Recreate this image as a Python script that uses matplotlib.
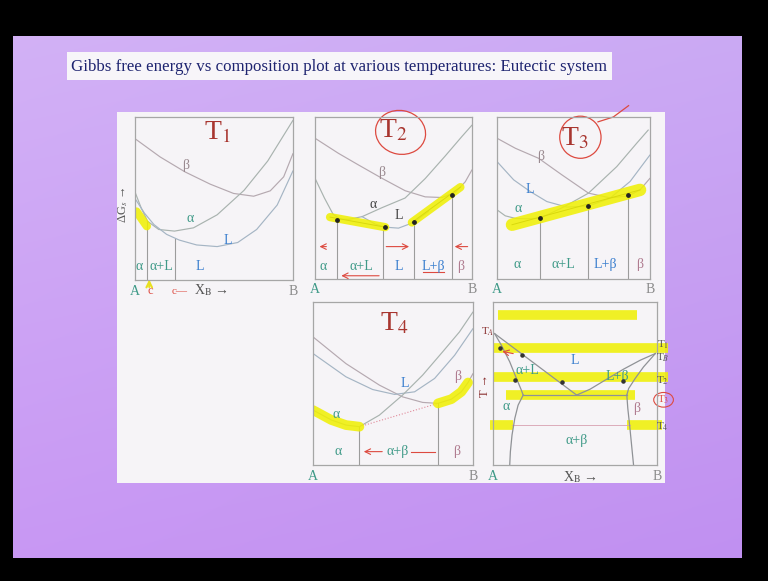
import matplotlib.pyplot as plt
import matplotlib.patches as mpatches
import numpy as np

plt.rcParams['font.family'] = ['Liberation Serif', 'DejaVu Serif']
plt.rcParams['mathtext.fontset'] = 'stix'

W, H = 768, 581

TITLE = 'Gibbs free energy vs composition plot at various temperatures: Eutectic system'

# ---- T1 : free energy curves (x = X_B, y = G, both 0..1 in the box) ----
t1_x_beta = [0, .159, .317, .476, .624, .751, .856, .941, 1.0]
t1_g_beta = [.867, .755, .663, .588, .531, .514, .547, .633, .776]
t1_x_alpha = [0, .04, .08, .15, .25, .37, .52, .69, .84, 1.0]
t1_g_alpha = [.54, .44, .36, .31, .30, .32, .40, .55, .73, .98]
t1_x_liq = [0, .06, .12, .20, .28, .39, .52, .65, .77, .90, 1.0]
t1_g_liq = [.50, .41, .34, .28, .245, .215, .205, .23, .31, .46, .67]
t1_bound_x = [.078, .254]
t1_bound_g = [.36, .25]
t1_hi_x = [.01, .075]
t1_hi_g = [.42, .33]
t1_regions = ['α', 'α+L', 'L']
t1_region_x = [.027, .169, .412]

# ---- T2 ----
t2_x_beta = [0, .149, .277, .426, .574, .702, .809, .894, .957, 1.0]
t2_g_beta = [.869, .776, .704, .622, .545, .507, .503, .535, .60, .674]
t2_x_alpha = [0, .06, .115, .16, .213, .30, .426, .574, .702, .830, .936, 1.0]
t2_g_alpha = [.622, .50, .40, .37, .368, .385, .44, .50, .62, .76, .88, .95]
t2_x_liq = [.298, .383, .447, .532, .628, .723]
t2_g_liq = [.386, .339, .320, .314, .349, .417]
t2_tan_x = [[.096, .447], [.617, .926]]
t2_tan_g = [[.382, .320], [.349, .567]]
t2_bound_x = [.138, .436, .628, .872]
t2_bound_g = [.366, .320, .349, .530]
t2_dot_x = [.138, .447, .628, .872]
t2_dot_g = [.366, .320, .349, .520]
t2_regions = ['α', 'α+L', 'L', 'L+β', 'β']
t2_region_x = [.053, .298, .532, .755, .926]

# ---- T3 ----
t3_x_beta = [0, .120, .272, .424, .598, .739, .859, .935, 1.0]
t3_g_beta = [.869, .807, .745, .643, .530, .501, .513, .550, .622]
t3_x_alpha = [0, .054, .120, .196, .283, .435, .598, .783, .913, .989]
t3_g_alpha = [.427, .390, .374, .372, .376, .444, .530, .694, .838, .920]
t3_x_liq = [0, .109, .217, .326, .457, .598, .739, .870, 1.0]
t3_g_liq = [.725, .612, .540, .478, .444, .450, .499, .602, .766]
t3_tan_x = [.098, .935]
t3_tan_g = [.335, .550]
t3_bound_x = [.283, .598, .859]
t3_bound_g = [.376, .452, .520]
t3_regions = ['α', 'α+L', 'L+β', 'β']
t3_region_x = [.13, .435, .707, .935]

# ---- T4 ----
t4_x_beta = [0, .206, .415, .560, .685, .781, .865, .927, .969, 1.0]
t4_g_beta = [.786, .622, .490, .418, .384, .378, .404, .449, .506, .561]
t4_x_liq = [0, .206, .373, .510, .635, .760, .885, 1.0]
t4_g_liq = [.684, .541, .463, .433, .449, .531, .673, .837]
t4_x_alpha = [0, .115, .206, .290, .415, .560, .685, .810, .915, 1.0]
t4_g_alpha = [.337, .276, .245, .235, .306, .429, .551, .694, .816, .939]
t4_tan_x = [.290, .781]
t4_tan_g = [.235, .378]
t4_bound_x = [.290, .781]
t4_bound_g = [.235, .378]
t4_regions = ['α', 'α+β', 'β']
t4_region_x = [.156, .531, .896]

# ---- phase diagram ----
pd_liq_left_x = [.010, .510]
pd_liq_left_t = [.806, .429]
pd_liq_right_x = [.990, .898, .796, .694, .592, .510]
pd_liq_right_t = [.684, .643, .588, .527, .465, .429]
pd_sol_left_x = [.010, .051, .102, .143, .173, .184]
pd_sol_left_t = [.806, .735, .633, .531, .459, .429]
pd_sol_right_x = [.990, .918, .867, .827, .816]
pd_sol_right_t = [.684, .602, .531, .469, .429]
pd_eut_x = [.184, .816]
pd_eut_t = [.429, .429]
pd_solv_left_x = [.184, .153, .133, .116, .106, .102]
pd_solv_left_t = [.429, .367, .286, .184, .082, 0]
pd_solv_right_x = [.816, .822, .833, .843, .851, .857]
pd_solv_right_t = [.429, .347, .245, .143, .061, 0]
pd_dot_x = [.045, .174, .133, .419, .794]
pd_dot_t = [.715, .674, .520, .510, .514]
pd_band_t = [.918, .720, .537, .429, .245, .245]
pd_band_x0 = [.031, 0, 0, .082, -.02, .818]
pd_band_x1 = [.878, 1.07, 1.07, .867, .12, 1.03]
pd_temp_labels = [r'T$_1$', r'T$_B$', r'T$_2$', r'T$_3$', r'T$_4$']
pd_temp_t = [.735, .655, .514, .400, .233]

C_ALPHA = '#3f9a88'
C_LIQ = '#3b7fcf'
C_BETA = '#b07c90'
C_TITLE = '#a8352f'
C_PEN = '#dd4a40'
C_YEL = '#f0f000'

fig = plt.figure(figsize=(W / 100, H / 100), dpi=100)
fig.patch.set_facecolor('black')

# slide background
bg = fig.add_axes([0, 0, 1, 1])
v = np.linspace(0, 1, 200)[:, None]
h = np.linspace(0, 1, 300)[None, :]
top = np.array([0.81, 0.68, 0.96])
bot = np.array([0.77, 0.58, 0.95])
img = top + (bot - top) * v[..., None] + 0.03 * (0.5 - h[..., None]) * np.array([1, 1, 0.3])
bg.imshow(np.clip(img, 0, 1), extent=(13, 742, 558, 36), aspect='auto', interpolation='bilinear')
bg.add_patch(mpatches.Rectangle((117, 112), 548, 371, fc='#f6f4f7', ec='none'))
bg.add_patch(mpatches.Rectangle((67, 52), 545, 28, fc='#f7f5f9', ec='none'))
bg.text(71, 67, TITLE, fontsize=12.2, color='#1e2470', va='center', ha='left')
bg.set_xlim(0, W)
bg.set_ylim(H, 0)
bg.axis('off')


def panel(l, t, r, b):
    ax = fig.add_axes([l / W, 1 - b / H, (r - l) / W, (b - t) / H])
    ax.set_xlim(0, 1)
    ax.set_ylim(0, 1)
    ax.set_xticks([])
    ax.set_yticks([])
    ax.set_facecolor('none')
    for s in ax.spines.values():
        s.set_color('#a6a6a6')
        s.set_linewidth(0.9)
    return ax


def curves(ax, xs, gs, cols):
    for x, g, c in zip(xs, gs, cols):
        ax.plot(x, g, color=c, lw=0.85, solid_capstyle='round')


def bounds(ax, xs, gs):
    for x, g in zip(xs, gs):
        ax.plot([x, x], [0, g], color='#9c9c9c', lw=0.8)


def regions(ax, names, xs, y):
    for n, x in zip(names, xs):
        if n.startswith('α'):
            c = C_ALPHA
        elif n.startswith('L'):
            c = C_LIQ
        else:
            c = C_BETA
        ax.text(x, y, n, color=c, fontsize=10, ha='center', va='center')


def ends(ax, y=-0.07):
    ax.text(0, y, 'A', color=C_ALPHA, fontsize=10, ha='center', va='center', clip_on=False)
    ax.text(1.0, y, 'B', color='#8a8a8a', fontsize=10, ha='center', va='center', clip_on=False)


cg_a, cg_b, cg_l = '#a9b3af', '#b5a9b0', '#a5b5c4'

# T1
ax1 = panel(135, 117, 293, 280)
curves(ax1, [t1_x_beta, t1_x_alpha, t1_x_liq], [t1_g_beta, t1_g_alpha, t1_g_liq], [cg_b, cg_a, cg_l])
bounds(ax1, t1_bound_x, t1_bound_g)
ax1.plot(t1_hi_x, t1_hi_g, color=C_YEL, lw=6, alpha=0.85, solid_capstyle='round')
regions(ax1, t1_regions, t1_region_x, .082)
ax1.text(.52, .905, r'T$_1$', color=C_TITLE, fontsize=20, ha='center', va='center')
ax1.text(.32, .70, 'β', color='#9a8a90', fontsize=10, ha='center', va='center')
ax1.text(.35, .38, 'α', color=C_ALPHA, fontsize=10, ha='center', va='center')
ax1.text(.59, .245, 'L', color=C_LIQ, fontsize=10, ha='center', va='center')
ax1.text(-.076, .46, r'ΔG$_s$ →', rotation=90, fontsize=9, color='#555555', ha='center', va='center', clip_on=False)
ends(ax1, -.073)
ax1.text(.48, -.065, r'X$_\mathrm{B}$ →', fontsize=10, color='#555555', ha='center', va='center')
ax1.text(.095, -.07, 'c', fontsize=9, color=C_PEN, ha='center', va='center')
ax1.text(.28, -.07, 'c—', fontsize=8, color=C_PEN, ha='center', va='center')
ax1.annotate('', xy=(.09, .02), xytext=(.09, -.06), arrowprops=dict(arrowstyle='->', color='#e8e020', lw=1.5))

# T2
ax2 = panel(315, 117, 472, 279)
curves(ax2, [t2_x_beta, t2_x_alpha, t2_x_liq], [t2_g_beta, t2_g_alpha, t2_g_liq], [cg_b, cg_a, cg_l])
bounds(ax2, t2_bound_x, t2_bound_g)
for x, g in zip(t2_tan_x, t2_tan_g):
    ax2.plot(x, g, color='#555555', lw=0.7)
    ax2.plot(x, g, color=C_YEL, lw=6, alpha=0.85, solid_capstyle='round')
ax2.scatter(t2_dot_x, t2_dot_g, s=6, color='#222222', zorder=5)
regions(ax2, t2_regions, t2_region_x, .078)
ax2.text(.50, .915, r'T$_2$', color=C_TITLE, fontsize=20, ha='center', va='center')
ax2.add_patch(mpatches.Ellipse((.545, .905), .32, .27, angle=-10, fill=False, ec=C_PEN, lw=0.9, clip_on=False))
ax2.text(.426, .66, 'β', color='#9a8a90', fontsize=10, ha='center', va='center')
ax2.text(.372, .458, 'α', color='#444444', fontsize=10, ha='center', va='center')
ax2.text(.532, .39, 'L', color='#444444', fontsize=10, ha='center', va='center')
for x0, x1 in [(.09, .011), (.436, .617), (.99, .872)]:
    ax2.annotate('', xy=(x1, .2), xytext=(x0, .2), arrowprops=dict(arrowstyle='->', color=C_PEN, lw=0.8))
ax2.annotate('', xy=(.150, .02), xytext=(.426, .02), arrowprops=dict(arrowstyle='->', color=C_PEN, lw=0.8))
ax2.plot([.69, .82], [.045, .045], color=C_PEN, lw=0.8)
ends(ax2, -.066)

# T3
ax3 = panel(497, 117, 650, 279)
curves(ax3, [t3_x_beta, t3_x_alpha, t3_x_liq], [t3_g_beta, t3_g_alpha, t3_g_liq], [cg_b, cg_a, cg_l])
bounds(ax3, t3_bound_x, t3_bound_g)
ax3.plot(t3_tan_x, t3_tan_g, color='#555555', lw=0.7)
ax3.plot(t3_tan_x, t3_tan_g, color=C_YEL, lw=9, alpha=0.85, solid_capstyle='round')
ax3.scatter(t3_bound_x, t3_bound_g, s=6, color='#222222', zorder=5)
regions(ax3, t3_regions, t3_region_x, .088)
ax3.text(.51, .867, r'T$_3$', color=C_TITLE, fontsize=20, ha='center', va='center')
ax3.add_patch(mpatches.Ellipse((.545, .875), .27, .26, fill=False, ec=C_PEN, lw=0.9, clip_on=False))
ax3.plot([.66, .76, .86], [.97, 1.0, 1.07], color=C_PEN, lw=0.9, clip_on=False)
ax3.text(.283, .756, 'β', color='#9a8a90', fontsize=10, ha='center', va='center')
ax3.text(.217, .55, 'L', color=C_LIQ, fontsize=10, ha='center', va='center')
ax3.text(.141, .437, 'α', color=C_ALPHA, fontsize=10, ha='center', va='center')
ends(ax3, -.066)

# T4
ax4 = panel(313, 302, 473, 465)
curves(ax4, [t4_x_beta, t4_x_liq, t4_x_alpha], [t4_g_beta, t4_g_liq, t4_g_alpha], [cg_b, cg_l, cg_a])
bounds(ax4, t4_bound_x, t4_bound_g)
ax4.plot(t4_tan_x, t4_tan_g, color='#e08a9a', lw=0.8, ls=':')
ax4.plot(t4_x_alpha[:4], t4_g_alpha[:4], color=C_YEL, lw=7, alpha=0.85, solid_capstyle='round')
ax4.plot(t4_x_beta[5:9], t4_g_beta[5:9], color=C_YEL, lw=7, alpha=0.85, solid_capstyle='round')
regions(ax4, t4_regions, t4_region_x, .082)
ax4.text(.51, .867, r'T$_4$', color=C_TITLE, fontsize=20, ha='center', va='center')
ax4.text(.146, .31, 'α', color=C_ALPHA, fontsize=10, ha='center', va='center')
ax4.text(.906, .545, 'β', color=C_BETA, fontsize=10, ha='center', va='center')
ax4.text(.573, .50, 'L', color=C_LIQ, fontsize=10, ha='center', va='center')
ax4.annotate('', xy=(.30, .082), xytext=(.45, .082), arrowprops=dict(arrowstyle='->', color=C_PEN, lw=0.8))
ax4.plot([.615, .76], [.082, .082], color=C_PEN, lw=0.8)
ends(ax4, -.073)

# phase diagram
ax5 = panel(493, 302, 657, 465)
for i in range(len(pd_band_t)):
    ax5.plot([pd_band_x0[i], pd_band_x1[i]], [pd_band_t[i], pd_band_t[i]], color=C_YEL,
             lw=7, alpha=0.85, clip_on=False, solid_capstyle='butt')
ax5.plot([pd_solv_left_x[3], pd_solv_right_x[2]], [.245, .245], color='#d8a0b0', lw=0.6)
for x, t in [(pd_liq_left_x, pd_liq_left_t), (pd_liq_right_x, pd_liq_right_t),
             (pd_sol_left_x, pd_sol_left_t), (pd_sol_right_x, pd_sol_right_t),
             (pd_eut_x, pd_eut_t), (pd_solv_left_x, pd_solv_left_t),
             (pd_solv_right_x, pd_solv_right_t)]:
    ax5.plot(x, t, color='#8f9296', lw=0.9)
ax5.scatter(pd_dot_x, pd_dot_t, s=5, color='#333333', zorder=5)
ax5.text(.50, .643, 'L', color=C_LIQ, fontsize=10, ha='center', va='center')
ax5.text(.21, .582, 'α+L', color=C_ALPHA, fontsize=10, ha='center', va='center')
ax5.text(.755, .541, 'L+β', color=C_ALPHA, fontsize=10, ha='center', va='center')
ax5.text(.082, .357, 'α', color=C_ALPHA, fontsize=10, ha='center', va='center')
ax5.text(.878, .347, 'β', color=C_BETA, fontsize=10, ha='center', va='center')
ax5.text(.51, .153, 'α+β', color=C_ALPHA, fontsize=10, ha='center', va='center')
for lab, t in zip(pd_temp_labels, pd_temp_t):
    col = C_PEN if lab == r'T$_3$' else '#555555'
    ax5.text(1.035, t, lab, color=col, fontsize=8, ha='center', va='center', clip_on=False)
ax5.add_patch(mpatches.Ellipse((1.04, .40), .12, .09, fill=False, ec=C_PEN, lw=0.8, clip_on=False))
ax5.text(-.03, .815, r'T$_A$', color='#8a3030', fontsize=8, ha='center', va='center', clip_on=False)
ax5.text(-.05, .49, 'T →', rotation=90, color='#8a3030', fontsize=9, ha='center', va='center', clip_on=False)
ax5.annotate('', xy=(.04, .70), xytext=(.14, .68), arrowprops=dict(arrowstyle='->', color=C_PEN, lw=0.8))
ends(ax5, -.073)
ax5.text(.53, -.073, r'X$_\mathrm{B}$ →', fontsize=10, color='#555555', ha='center', va='center')

fig.savefig('out.png', dpi=100, facecolor='black')
